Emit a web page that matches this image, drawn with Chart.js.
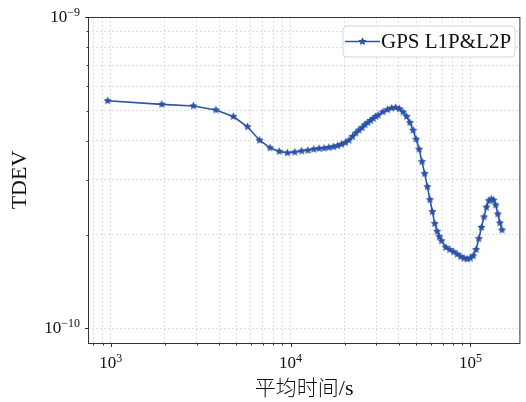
<!DOCTYPE html>
<html>
<head>
<meta charset="utf-8">
<script src="https://cdn.jsdelivr.net/npm/chart.js@4.4.0/dist/chart.umd.min.js"></script>
<style>
  html, body { margin: 0; padding: 0; background: #fff; }
  #wrap { width: 526px; height: 402px; position: relative; }
</style>
</head>
<body>
<div id="wrap"><canvas id="c" width="526" height="402"></canvas></div>
<script>
// series and labels
const seriesLabel = 'GPS L1P&L2P';
const xTitleCjk = '平均时间';
const xTitleUnit = '/s';
const yTitle = 'TDEV';

// averaging time (s)
const tau = [
  960, 1920, 2880, 3840, 4800, 5760, 6720, 7680, 8640, 9600,
  10560, 11520, 12480, 13440, 14400, 15360, 16320, 17280, 18240, 19200,
  20160, 21120, 22080, 23040, 24000, 24960, 25920, 26880, 27840, 28800,
  29760, 30720, 32640, 34560, 36480, 38400, 40320, 42240, 44160, 46080,
  48000, 49920, 51840, 53760, 55680, 57600, 59520, 61440, 63360, 65280,
  67200, 69120, 72960, 76800, 80640, 84480, 88320, 92160, 96000, 99840,
  103680, 107520, 111360, 115200, 119040, 122880, 126720, 130560, 134400, 138240,
  142080, 145920, 149760
];

// TDEV values
const tdev = [
  5.38e-10, 5.24e-10, 5.18e-10, 5.03e-10, 4.79e-10, 4.44e-10, 4.02e-10, 3.80e-10, 3.70e-10, 3.66e-10,
  3.68e-10, 3.71e-10, 3.73e-10, 3.76e-10, 3.78e-10, 3.79e-10, 3.81e-10, 3.83e-10, 3.86e-10, 3.90e-10,
  3.95e-10, 4.02e-10, 4.13e-10, 4.24e-10, 4.33e-10, 4.41e-10, 4.51e-10, 4.58e-10, 4.65e-10, 4.72e-10,
  4.79e-10, 4.84e-10, 4.96e-10, 5.04e-10, 5.10e-10, 5.12e-10, 5.07e-10, 4.95e-10, 4.79e-10, 4.58e-10,
  4.33e-10, 4.05e-10, 3.76e-10, 3.43e-10, 3.14e-10, 2.85e-10, 2.59e-10, 2.37e-10, 2.17e-10, 2.05e-10,
  1.97e-10, 1.91e-10, 1.82e-10, 1.79e-10, 1.76e-10, 1.73e-10, 1.70e-10, 1.68e-10, 1.67e-10, 1.68e-10,
  1.71e-10, 1.79e-10, 1.94e-10, 2.11e-10, 2.28e-10, 2.45e-10, 2.57e-10, 2.60e-10, 2.58e-10, 2.49e-10,
  2.33e-10, 2.18e-10, 2.07e-10
];

// axis ranges and labelled decades
const xRange = [746.6, 189700];
const yRange = [8.97e-11, 1.0e-9];
const xTickExps = [3, 4, 5];
const yTickExps = [-10, -9];

const LINE_COLOR = '#2a52a6';
const SERIF = '"Liberation Serif", "Times New Roman", serif';

// filled five-point star like matplotlib '*'
function starImage(r, color) {
    const s = Math.ceil(r * 2 + 2);
    const c = document.createElement('canvas');
    c.width = s; c.height = s;
    const g = c.getContext('2d');
    g.fillStyle = color;
    g.beginPath();
    for (let i = 0; i < 10; i++) {
        const a = -Math.PI / 2 + i * Math.PI / 5;
        const rr = i % 2 === 0 ? r : r * 0.48;
        g.lineTo(s / 2 + rr * Math.cos(a), s / 2 + rr * Math.sin(a));
    }
    g.closePath();
    g.fill();
    return c;
}
const star = starImage(4.3, LINE_COLOR);

// keep only 1..9 x 10^n ticks (like matplotlib major+minor)
function keepDecadeTicks(scale) {
    scale.ticks = scale.ticks.filter(t => {
        const e = Math.floor(Math.log10(t.value) + 1e-9);
        const m = t.value / Math.pow(10, e);
        return Math.abs(m - Math.round(m)) < 1e-6;
    });
}

function isMajor(v) {
    const l = Math.log10(v);
    return Math.abs(l - Math.round(l)) < 1e-6;
}

// "10" with raised exponent
function drawPow(ctx, exp, x, baseline, align) {
    const expTxt = exp < 0 ? '\u2212' + Math.abs(exp) : String(exp);
    ctx.font = '17px ' + SERIF;
    const w1 = ctx.measureText('10').width;
    ctx.font = '12px ' + SERIF;
    const w2 = ctx.measureText(expTxt).width;
    let left = align === 'right' ? x - w1 - w2 : x - (w1 + w2) / 2;
    ctx.textAlign = 'left';
    ctx.textBaseline = 'alphabetic';
    ctx.fillStyle = '#111';
    ctx.font = '17px ' + SERIF;
    ctx.fillText('10', left, baseline);
    ctx.font = '12px ' + SERIF;
    ctx.fillText(expTxt, left + w1, baseline - 6);
}

const decor = {
    id: 'decor',
    beforeDraw(chart) {
        const ctx = chart.ctx;
        ctx.save();
        ctx.fillStyle = '#fff';
        ctx.fillRect(0, 0, chart.width, chart.height);
        ctx.restore();
    },
    afterDraw(chart) {
        const ctx = chart.ctx;
        const a = chart.chartArea;
        const xs = chart.scales.x, ys = chart.scales.y;
        ctx.save();

        // frame
        ctx.strokeStyle = '#333';
        ctx.lineWidth = 1;
        ctx.strokeRect(a.left + 0.5, a.top + 0.5, a.right - a.left - 1, a.bottom - a.top);

        // tick marks
        ctx.beginPath();
        xs.ticks.forEach(t => {
            const px = Math.round(xs.getPixelForValue(t.value)) + 0.5;
            const len = isMajor(t.value) ? 3.5 : 2;
            ctx.moveTo(px, a.bottom + 0.5);
            ctx.lineTo(px, a.bottom + 0.5 + len);
        });
        ys.ticks.forEach(t => {
            const py = Math.round(ys.getPixelForValue(t.value)) + 0.5;
            const len = isMajor(t.value) ? 3.5 : 2;
            ctx.moveTo(a.left + 0.5, py);
            ctx.lineTo(a.left + 0.5 - len, py);
        });
        ctx.stroke();

        // tick labels
        xTickExps.forEach(e => {
            drawPow(ctx, e, xs.getPixelForValue(Math.pow(10, e)), a.bottom + 25, 'center');
        });
        yTickExps.forEach(e => {
            drawPow(ctx, e, a.left - 8, ys.getPixelForValue(Math.pow(10, e)) + 5, 'right');
        });

        // x title: CJK part + unit in serif
        ctx.fillStyle = '#111';
        ctx.textBaseline = 'alphabetic';
        ctx.textAlign = 'left';
        const cjkFont = '300 21px "Noto Sans CJK SC", sans-serif';
        const unitFont = '22px ' + SERIF;
        ctx.font = cjkFont;
        const wc = ctx.measureText(xTitleCjk).width;
        ctx.font = unitFont;
        const wu = ctx.measureText(xTitleUnit).width;
        const tx = (a.left + a.right) / 2 - (wc + wu) / 2;
        ctx.font = cjkFont;
        ctx.fillText(xTitleCjk, tx, 395);
        ctx.font = unitFont;
        ctx.fillText(xTitleUnit, tx + wc, 395);

        // y title
        ctx.save();
        ctx.textAlign = 'center';
        ctx.textBaseline = 'middle';
        ctx.translate(20, (a.top + a.bottom) / 2);
        ctx.rotate(-Math.PI / 2);
        ctx.font = '22px ' + SERIF;
        ctx.fillText(yTitle, 0, 0);
        ctx.restore();

        // legend
        const lx = 343, ly = 26, lw = 172, lh = 31, r = 4;
        ctx.beginPath();
        ctx.moveTo(lx + r, ly);
        ctx.arcTo(lx + lw, ly, lx + lw, ly + lh, r);
        ctx.arcTo(lx + lw, ly + lh, lx, ly + lh, r);
        ctx.arcTo(lx, ly + lh, lx, ly, r);
        ctx.arcTo(lx, ly, lx + lw, ly, r);
        ctx.closePath();
        ctx.fillStyle = 'rgba(255,255,255,0.85)';
        ctx.fill();
        ctx.strokeStyle = '#d6d6d6';
        ctx.lineWidth = 1;
        ctx.stroke();
        ctx.strokeStyle = LINE_COLOR;
        ctx.lineWidth = 1.6;
        ctx.beginPath();
        ctx.moveTo(lx + 2, ly + 15.5);
        ctx.lineTo(lx + 37, ly + 15.5);
        ctx.stroke();
        ctx.drawImage(star, lx + 19.5 - star.width / 2, ly + 15.5 - star.height / 2);
        ctx.fillStyle = '#111';
        ctx.textAlign = 'left';
        ctx.textBaseline = 'alphabetic';
        ctx.font = '21px ' + SERIF;
        ctx.fillText(seriesLabel, lx + 38, ly + 22);

        ctx.restore();
    }
};

const gridOpts = {
    color: 'rgba(195,195,195,0.7)',
    lineWidth: 0.8,
    drawTicks: false
};

new Chart(document.getElementById('c'), {
    type: 'scatter',
    data: {
        datasets: [{
            label: seriesLabel,
            data: tau.map((t, i) => ({ x: t, y: tdev[i] })),
            showLine: true,
            borderColor: LINE_COLOR,
            backgroundColor: LINE_COLOR,
            borderWidth: 1.6,
            pointStyle: star,
            pointRadius: 4,
            tension: 0
        }]
    },
    options: {
        responsive: false,
        devicePixelRatio: 1,
        animation: false,
        events: [],
        layout: { padding: { left: 88, right: 2, top: 17, bottom: 59 } },
        plugins: { legend: { display: false }, tooltip: { enabled: false } },
        scales: {
            x: {
                type: 'logarithmic',
                min: xRange[0],
                max: xRange[1],
                afterBuildTicks: keepDecadeTicks,
                ticks: { display: false, autoSkip: false },
                grid: gridOpts,
                border: { display: false, dash: [2, 2] }
            },
            y: {
                type: 'logarithmic',
                min: yRange[0],
                max: yRange[1],
                afterBuildTicks: keepDecadeTicks,
                ticks: { display: false, autoSkip: false },
                grid: gridOpts,
                border: { display: false, dash: [2, 2] }
            }
        }
    },
    plugins: [decor]
});
</script>
</body>
</html>
